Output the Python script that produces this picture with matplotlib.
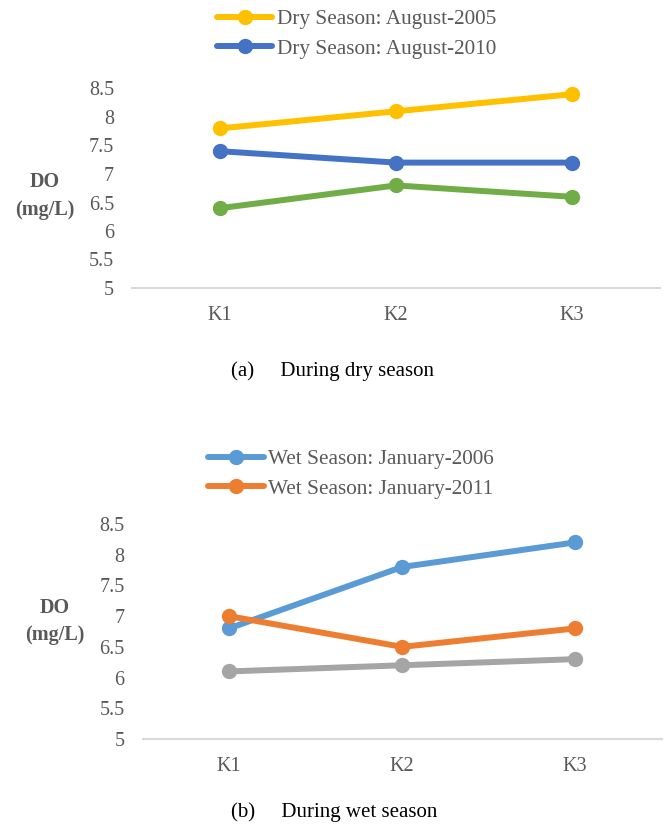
import matplotlib
matplotlib.use("Agg")
import matplotlib.pyplot as plt

plt.rcParams['font.family'] = ['Liberation Serif', 'DejaVu Serif']

categories = ["K1", "K2", "K3"]
yticks = [5, 5.5, 6, 6.5, 7, 7.5, 8, 8.5]
ytick_labels = ["5", "5.5", "6", "6.5", "7", "7.5", "8", "8.5"]

dry_2005 = [7.8, 8.1, 8.4]
dry_2010 = [7.4, 7.2, 7.2]
dry_other = [6.4, 6.8, 6.6]

wet_2006 = [6.8, 7.8, 8.2]
wet_2011 = [7.0, 6.5, 6.8]
wet_other = [6.1, 6.2, 6.3]

dry_labels = ["Dry Season: August-2005", "Dry Season: August-2010"]
wet_labels = ["Wet Season: January-2006", "Wet Season: January-2011"]

TXT = "#595959"
W, H = 664, 827
fig = plt.figure(figsize=(W / 100, H / 100), dpi=100)


def make_ax(left, right, top, bottom):
    return fig.add_axes([left / W, 1 - bottom / H, (right - left) / W, (bottom - top) / H])


def style(ax, lab_x, lab_y):
    x = list(range(len(categories)))
    ax.set_xlim(-0.5, len(categories) - 0.5)
    ax.set_ylim(5, 8.5)
    ax.set_xticks(x)
    ax.set_xticklabels(categories)
    ax.set_yticks(yticks)
    ax.set_yticklabels(ytick_labels)
    for s in ["top", "right", "left"]:
        ax.spines[s].set_visible(False)
    ax.spines["bottom"].set_color("#D9D9D9")
    ax.spines["bottom"].set_linewidth(1.5)
    ax.tick_params(axis="x", length=0, pad=13, labelsize=14.5, labelcolor=TXT)
    ax.tick_params(axis="y", length=0, pad=13, labelsize=14.5, labelcolor=TXT)
    ax.set_ylabel("DO\n(mg/L)", rotation=0, fontsize=14.5, fontweight="bold",
                  color=TXT, ha="center", va="center", linespacing=1.5)
    ax.yaxis.set_label_coords(lab_x, lab_y)


kw = dict(linewidth=4.3, marker="o", markersize=10, clip_on=False, solid_capstyle="round")

# Top panel (dry season)
ax1 = make_ax(132, 660, 88.5, 288)
x = list(range(len(categories)))
l1, = ax1.plot(x, dry_2005, color="#FFC000", label=dry_labels[0], **kw)
l2, = ax1.plot(x, dry_2010, color="#4472C4", label=dry_labels[1], **kw)
ax1.plot(x, dry_other, color="#70AD47", **kw)
style(ax1, (45 - 132) / 528, (288 - 196) / 199.5)
fig.legend(handles=[l1, l2], loc="center", bbox_to_anchor=(356.5 / W, 1 - 34 / H),
           frameon=False, prop={"size": 15.3}, labelcolor=TXT, handlelength=2.6,
           handletextpad=0.2, labelspacing=0.44, borderpad=0)
fig.text(231 / W, 1 - 371 / H, "(a)     During dry season", fontsize=15, color="black",
         ha="left", va="center")

# Bottom panel (wet season)
ax2 = make_ax(142.5, 661.5, 524, 739)
m1, = ax2.plot(x, wet_2006, color="#5B9BD5", label=wet_labels[0], **kw)
m2, = ax2.plot(x, wet_2011, color="#ED7D31", label=wet_labels[1], **kw)
ax2.plot(x, wet_other, color="#A5A5A5", **kw)
style(ax2, (55 - 142.5) / 519, (739 - 621.5) / 215)
fig.legend(handles=[m1, m2], loc="center", bbox_to_anchor=(351 / W, 1 - 474 / H),
           frameon=False, prop={"size": 15.3}, labelcolor=TXT, handlelength=2.6,
           handletextpad=0.2, labelspacing=0.44, borderpad=0)
fig.text(231 / W, 1 - 812 / H, "(b)     During wet season", fontsize=15, color="black",
         ha="left", va="center")

fig.savefig("out.png", dpi=100)
